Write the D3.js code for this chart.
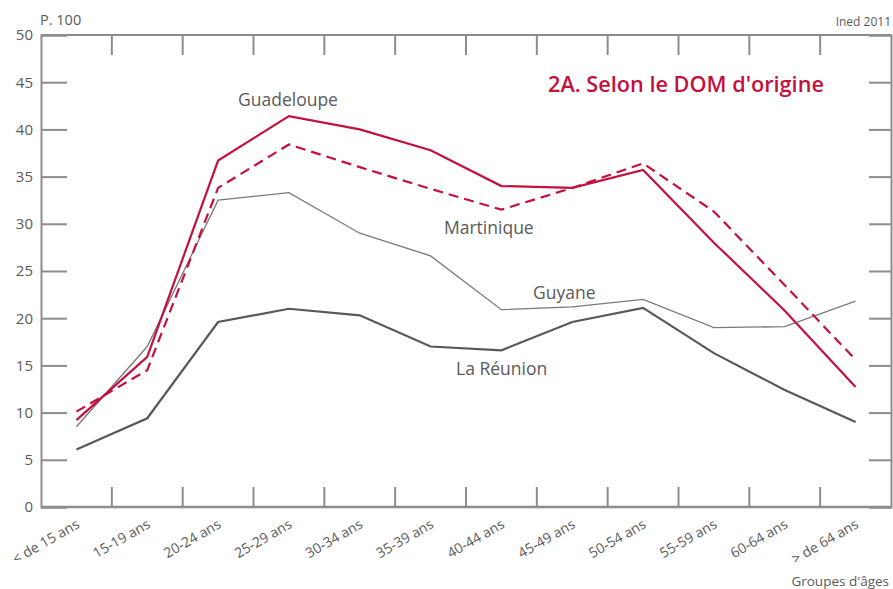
<!DOCTYPE html>
<html>
<head>
<meta charset="utf-8">
<script src="https://cdn.jsdelivr.net/npm/d3@7"></script>
<style>
  body { margin: 0; background: #fff; }
  svg text { font-family: "Open Sans", "DejaVu Sans", sans-serif; }
</style>
</head>
<body>
<svg id="chart" width="893" height="589"></svg>
<script>
// age groups and values (p. 100)
var ages = ["< de 15 ans", "15-19 ans", "20-24 ans", "25-29 ans", "30-34 ans", "35-39 ans",
            "40-44 ans", "45-49 ans", "50-54 ans", "55-59 ans", "60-64 ans", "> de 64 ans"];
var guadeloupe = [9.2, 15.9, 36.7, 41.4, 40.0, 37.8, 34.0, 33.8, 35.7, 28.0, 20.8, 12.7];
var martinique = [10.1, 14.5, 33.8, 38.4, 36.0, 33.7, 31.5, 33.8, 36.4, 31.3, 23.5, 15.6];
var guyane     = [8.5, 17.0, 32.5, 33.3, 29.0, 26.6, 20.9, 21.2, 22.0, 19.0, 19.1, 21.8];
var reunion    = [6.1, 9.4, 19.6, 21.0, 20.3, 17.0, 16.6, 19.6, 21.1, 16.3, 12.4, 9.0];
var yTicks = [0, 5, 10, 15, 20, 25, 30, 35, 40, 45, 50];

var red = "#c3113e",
    axisColor = "#8c8c8c",
    textColor = "#5a5a5a";

var svg = d3.select("#chart"),
    margin = {top: 35, right: 2, bottom: 82, left: 41},
    width = 893 - margin.left - margin.right,
    height = 589 - margin.top - margin.bottom;

var g = svg.append("g")
  .attr("transform", "translate(" + margin.left + "," + margin.top + ")");

var x = d3.scaleBand()
    .domain(ages)
    .range([0, width]);
var y = d3.scaleLinear()
    .domain([0, 50])
    .range([height, 0]);

// y axes, ticks pointing inward
var yAxisL = g.append("g")
    .call(d3.axisLeft(y).tickValues(yTicks).tickSize(-26).tickPadding(8));
var yAxisR = g.append("g")
    .attr("transform", "translate(" + width + ",0)")
    .call(d3.axisRight(y).tickValues(yTicks).tickSize(-22).tickFormat(""));

[yAxisL, yAxisR].forEach(function(a) {
  a.select(".domain").attr("stroke", axisColor).attr("stroke-width", 2);
  a.selectAll(".tick line").attr("stroke", axisColor).attr("stroke-width", 2);
});
yAxisL.selectAll(".tick text")
  .attr("fill", textColor)
  .style("font-size", "15px");

// frame top and bottom
g.append("line").attr("x1", 0).attr("x2", width).attr("y1", 0).attr("y2", 0)
  .attr("stroke", axisColor).attr("stroke-width", 2);
g.append("line").attr("x1", 0).attr("x2", width).attr("y1", height).attr("y2", height)
  .attr("stroke", axisColor).attr("stroke-width", 2.5);

// category separators on top and bottom
var bounds = ages.slice(1);
g.selectAll(".tick-bottom").data(bounds)
  .enter().append("line")
    .attr("x1", d => x(d)).attr("x2", d => x(d))
    .attr("y1", height).attr("y2", height - 20)
    .attr("stroke", axisColor).attr("stroke-width", 2);
g.selectAll(".tick-top").data(bounds)
  .enter().append("line")
    .attr("x1", d => x(d)).attr("x2", d => x(d))
    .attr("y1", 0).attr("y2", 20)
    .attr("stroke", axisColor).attr("stroke-width", 2);

// x labels, rotated
g.selectAll(".xlabel").data(ages)
  .enter().append("text")
    .attr("transform", d => "translate(" + (x(d) + x.bandwidth() / 2 + 4) + "," + (height + 20) + ") rotate(-30)")
    .attr("text-anchor", "end")
    .attr("fill", textColor)
    .style("font-size", "14px")
    .text(d => d);

var line = d3.line()
    .x((d, i) => x(ages[i]) + x.bandwidth() / 2)
    .y(d => y(d));

g.append("path").datum(guyane)
  .attr("d", line).attr("fill", "none")
  .attr("stroke", "#7a7a7a").attr("stroke-width", 1.3);
g.append("path").datum(reunion)
  .attr("d", line).attr("fill", "none")
  .attr("stroke", "#585858").attr("stroke-width", 2.2);
g.append("path").datum(martinique)
  .attr("d", line).attr("fill", "none")
  .attr("stroke", red).attr("stroke-width", 2.2)
  .attr("stroke-dasharray", "10,6");
g.append("path").datum(guadeloupe)
  .attr("d", line).attr("fill", "none")
  .attr("stroke", red).attr("stroke-width", 2.2);

// series labels
var labels = [
  {text: "Guadeloupe", x: 238, y: 106},
  {text: "Martinique", x: 444, y: 234},
  {text: "Guyane", x: 533, y: 299},
  {text: "La Réunion", x: 456, y: 375}
];
svg.selectAll(".slabel").data(labels)
  .enter().append("text")
    .attr("x", d => d.x).attr("y", d => d.y)
    .attr("fill", textColor)
    .style("font-size", "17.5px")
    .text(d => d.text);

svg.append("text")
  .attr("x", 548).attr("y", 92)
  .attr("fill", red)
  .style("font-size", "21.7px")
  .style("font-weight", "600")
  .text("2A. Selon le DOM d'origine");

svg.append("text")
  .attr("x", 40).attr("y", 25)
  .attr("fill", textColor)
  .style("font-size", "14.5px")
  .text("P. 100");

svg.append("text")
  .attr("x", 891).attr("y", 26)
  .attr("text-anchor", "end")
  .attr("fill", textColor)
  .style("font-size", "12px")
  .text("Ined 2011");

svg.append("text")
  .attr("x", 889).attr("y", 586)
  .attr("text-anchor", "end")
  .attr("fill", textColor)
  .style("font-size", "13.5px")
  .text("Groupes d'âges");
</script>
</body>
</html>
